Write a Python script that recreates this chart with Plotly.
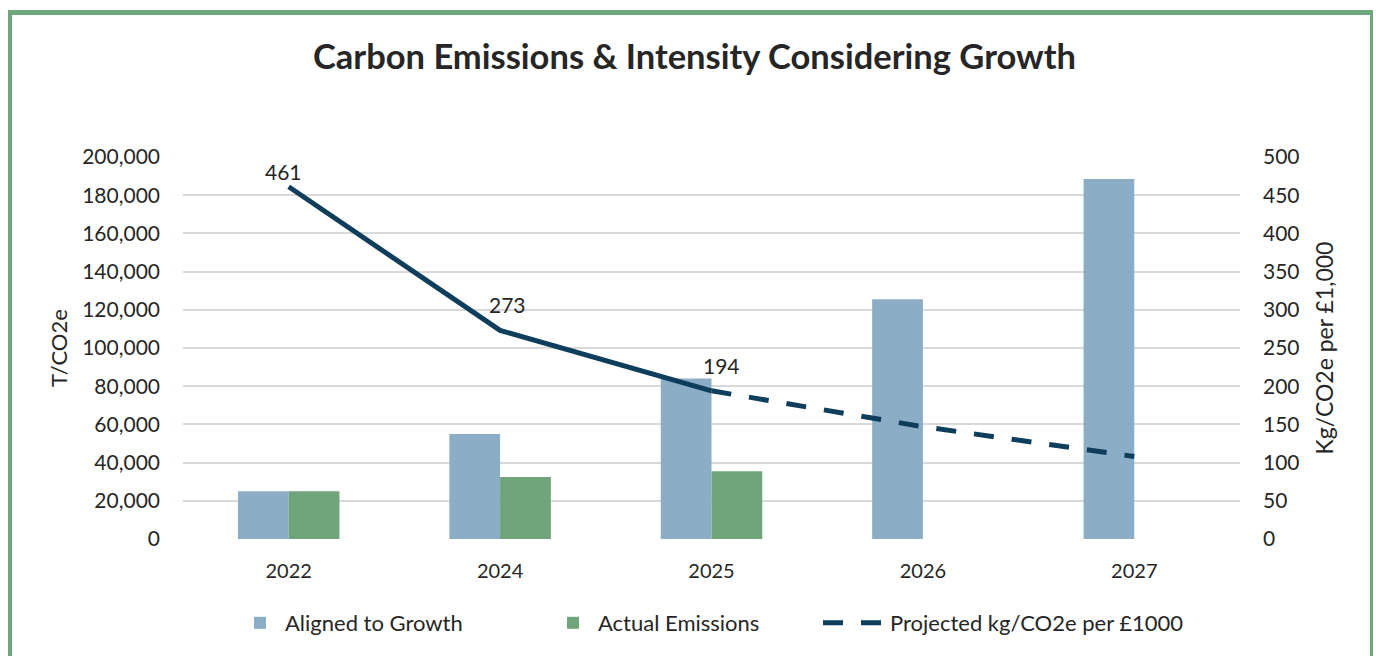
import plotly.graph_objects as go

years = ["2022", "2024", "2025", "2026", "2027"]
aligned_to_growth = [25000, 55000, 84000, 125500, 188500]
actual_emissions = [25000, 32500, 35500, None, None]
intensity_actual = [461, 273, 194, None, None]
intensity_projected = [None, None, 194, 147, 108]
intensity_labels = ["461", "273", "194"]

left_ticks = list(range(0, 200001, 20000))
right_ticks = list(range(0, 501, 50))

# The page body has an 8px margin, so the figure starts at (8, 8) in the screenshot.
OFF = 8
W, H = 1381 - OFF, 656 - OFF
PLOT_L, PLOT_R, PLOT_T, PLOT_B = 183, 1240, 157, 539   # target plot area in screenshot px
ML, MR, MT, MB = PLOT_L - OFF, 1381 - PLOT_R, PLOT_T - OFF, 656 - PLOT_B
PW, PH = PLOT_R - PLOT_L, PLOT_B - PLOT_T

FONT = "Lato"
TXT = "#262626"
BLUE = "#8CADC6"
GREEN = "#70A47B"
NAVY = "#0E3E5C"
FRAME = "#70A67B"


def px_x(px):
    return (px - PLOT_L) / PW


def px_y(py):
    return (PLOT_B - py) / PH


fig = go.Figure()
fig.add_trace(go.Bar(x=years, y=aligned_to_growth, name="Aligned to Growth",
                     marker=dict(color=BLUE, line=dict(width=0)), legend="legend"))
fig.add_trace(go.Bar(x=years, y=actual_emissions, name="Actual Emissions",
                     marker=dict(color=GREEN, line=dict(width=0)), legend="legend"))
fig.add_trace(go.Scatter(x=years, y=intensity_actual, yaxis="y2", mode="lines",
                         line=dict(color=NAVY, width=5), showlegend=False,
                         name="kg/CO2e per £1000"))
fig.add_trace(go.Scatter(x=years, y=intensity_projected, yaxis="y2", mode="lines",
                         line=dict(color=NAVY, width=5, dash="20px,18px"),
                         name="Projected kg/CO2e per £1000", legend="legend2"))

label_shifts = [(-5, 15), (7, 26), (10, 25)]
annotations = []
for i, lab in enumerate(intensity_labels):
    annotations.append(dict(x=i, y=intensity_actual[i], xref="x", yref="y2",
                            text=lab, showarrow=False,
                            xshift=label_shifts[i][0], yshift=label_shifts[i][1],
                            font=dict(family=FONT, size=21, color=TXT)))

fig.update_layout(
    width=W, height=H,
    margin=dict(l=ML, r=MR, t=MT, b=MB),
    paper_bgcolor="white", plot_bgcolor="white",
    barmode="group", bargap=0.52, bargroupgap=0,
    font=dict(family=FONT, color=TXT),
    title=dict(text="<b>Carbon Emissions &amp; Intensity Considering Growth</b>",
               x=0.5, xanchor="center", y=1 - (57 - OFF) / H, yanchor="middle",
               font=dict(family=FONT, size=34.5, color=TXT)),
    xaxis=dict(type="category", range=[-0.5, len(years) - 0.5],
               showgrid=False, showline=False, ticks="",
               tickfont=dict(family=FONT, size=20, color=TXT), ticklabelstandoff=18),
    yaxis=dict(range=[0, 200000], tickvals=left_ticks, tickformat=",",
               showgrid=True, gridcolor="#D9D9D9", gridwidth=1.5,
               zeroline=False, showline=False, ticks="",
               tickfont=dict(family=FONT, size=21, color=TXT), ticklabelstandoff=22,
               title=dict(text="T/CO2e", font=dict(family=FONT, size=22, color=TXT), standoff=8)),
    yaxis2=dict(range=[0, 500], tickvals=right_ticks, overlaying="y", side="right",
                showgrid=False, zeroline=False, showline=False, ticks="",
                tickfont=dict(family=FONT, size=21, color=TXT), ticklabelstandoff=22,
                title=dict(text="Kg/CO2e per £1,000", font=dict(family=FONT, size=23, color=TXT), standoff=18)),
    legend=dict(orientation="h", x=px_x(235), xanchor="left", y=px_y(623), yanchor="middle",
                font=dict(family=FONT, size=22, color=TXT), itemwidth=40,
                entrywidth=258, entrywidthmode="pixels",
                traceorder="normal", bgcolor="rgba(0,0,0,0)"),
    legend2=dict(orientation="h", x=px_x(818), xanchor="left", y=px_y(623), yanchor="middle",
                 font=dict(family=FONT, size=22, color=TXT), itemwidth=62,
                 bgcolor="rgba(0,0,0,0)"),
    annotations=annotations,
    shapes=[dict(type="rect", xref="paper", yref="paper",
                 x0=px_x(9.5), x1=px_x(1372.5),
                 y0=px_y(690), y1=px_y(12.5),
                 line=dict(color=FRAME, width=5), fillcolor="rgba(0,0,0,0)", layer="above")],
)

fig.write_html("out.html")
